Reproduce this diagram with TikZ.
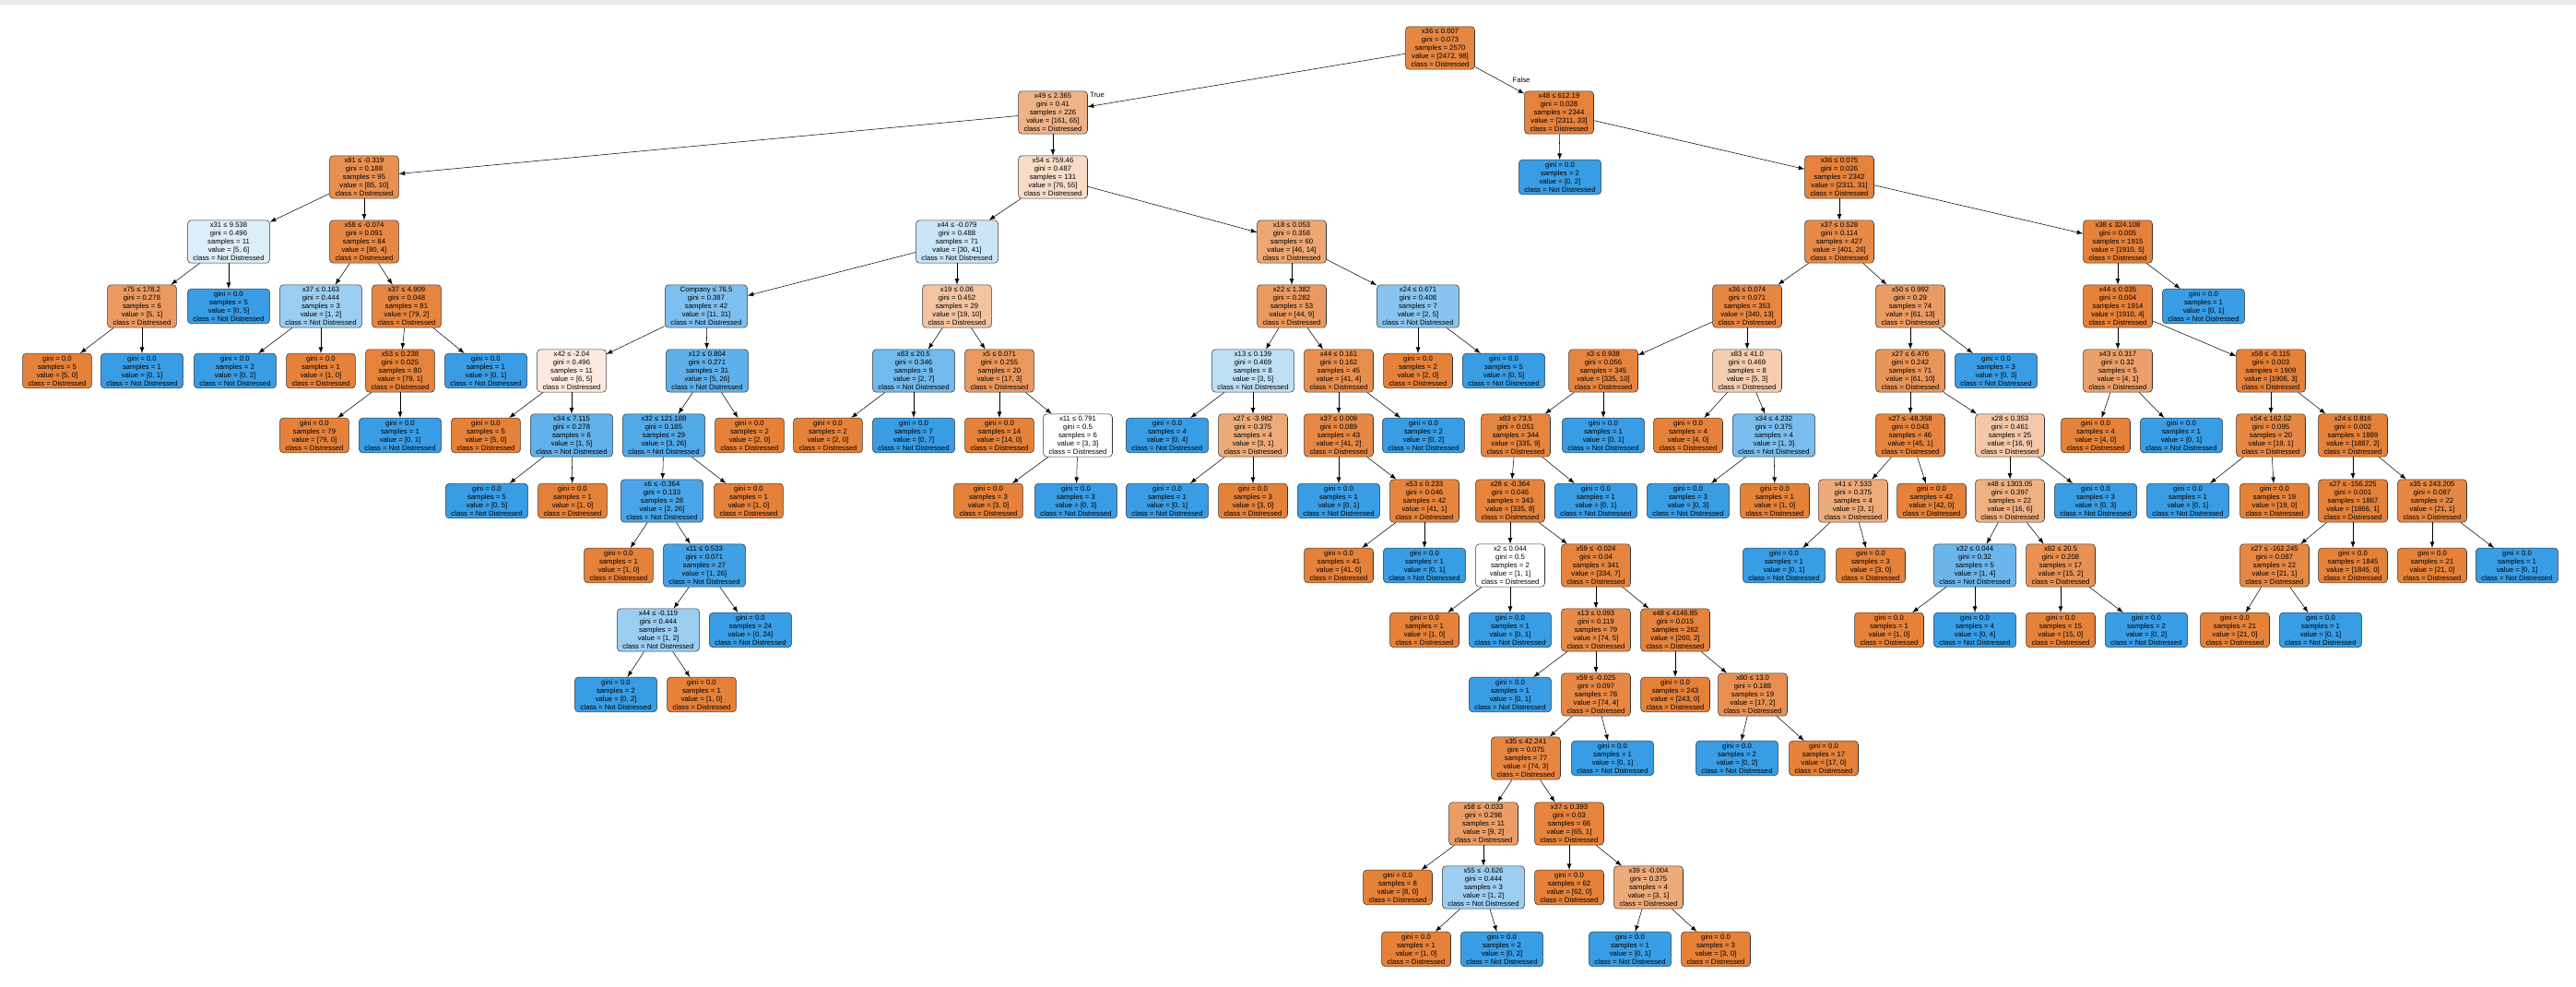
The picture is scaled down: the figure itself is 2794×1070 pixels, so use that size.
\documentclass[tikz,border=0pt]{standalone}
\usepackage{fontspec}
\setmainfont{Liberation Sans}
\usepackage{xcolor}
\usepackage{tikz}
\usetikzlibrary{arrows}

\definecolor{dis}{HTML}{E58139}
\definecolor{ndis}{HTML}{399DE5}
\newcommand{\spl}[5]{#1\\gini = #2\\samples = #3\\value = [#4]\\class = #5}
\newcommand{\lea}[3]{gini = 0.0\\samples = #1\\value = [#2]\\class = #3}
\newcommand{\Dc}{Distressed}
\newcommand{\Nc}{Not Distressed}

\tikzset{
  tn/.style={draw=black!80, line width=0.3pt, rounded corners=2.2pt, align=center,
    inner xsep=0.12cm, inner ysep=0.05cm, font=\fontsize{4.4}{5.1}\selectfont},
  o/.style={tn, fill=dis!#1!white},
  bl/.style={tn, fill=ndis!#1!white},
  edge/.style={->, >=latex, line width=0.3pt}
}

\begin{document}
\begin{tikzpicture}[x=0.02cm, y=-0.02cm]
  \useasboundingbox (0,0) rectangle (2794,1070);
  \fill[black!8] (0,0) rectangle (2794,5);

  % level 0 - 2
  \node[o=96] (r) at (1562,52) {\spl{x36 ≤ 0.007}{0.073}{2570}{2472, 98}{\Dc}};
  \node[o=60] (a) at (1142,122) {\spl{x49 ≤ 2.365}{0.41}{226}{161, 65}{\Dc}};
  \node[o=99] (b) at (1691,122) {\spl{x48 ≤ 612.19}{0.028}{2344}{2311, 33}{\Dc}};
  \node[o=88] (aa) at (395,192) {\spl{x81 ≤ -0.319}{0.188}{95}{85, 10}{\Dc}};
  \node[o=28] (ab) at (1142,192) {\spl{x54 ≤ 759.46}{0.487}{131}{76, 55}{\Dc}};
  \node[bl=100] (ba) at (1692,192) {\lea{2}{0, 2}{\Nc}};
  \node[o=99] (bb) at (1995,192) {\spl{x36 ≤ 0.075}{0.026}{2342}{2311, 31}{\Dc}};

  % level 3
  \node[bl=17] (aaa) at (248,262) {\spl{x31 ≤ 9.538}{0.496}{11}{5, 6}{\Nc}};
  \node[o=95] (aab) at (395,262) {\spl{x58 ≤ -0.074}{0.091}{84}{80, 4}{\Dc}};
  \node[bl=27] (aba) at (1038,262) {\spl{x44 ≤ -0.079}{0.488}{71}{30, 41}{\Nc}};
  \node[o=70] (abb) at (1401,262) {\spl{x18 ≤ 0.053}{0.358}{60}{46, 14}{\Dc}};
  \node[o=93] (bba) at (1995,262) {\spl{x37 ≤ 0.528}{0.114}{427}{401, 26}{\Dc}};
  \node[o=100] (bbb) at (2297,262) {\spl{x38 ≤ 324.108}{0.005}{1915}{1910, 5}{\Dc}};

  % level 4
  \node[o=80] (c1) at (154,332) {\spl{x75 ≤ 178.2}{0.278}{6}{5, 1}{\Dc}};
  \node[bl=100] (c2) at (248,332) {\lea{5}{0, 5}{\Nc}};
  \node[bl=50] (c3) at (348,332) {\spl{x37 ≤ 0.163}{0.444}{3}{1, 2}{\Nc}};
  \node[o=97] (c4) at (441,332) {\spl{x37 ≤ 4.909}{0.048}{81}{79, 2}{\Dc}};
  \node[bl=65] (c5) at (766,332) {\spl{Company ≤ 76.5}{0.387}{42}{11, 31}{\Nc}};
  \node[o=47] (c6) at (1038,332) {\spl{x19 ≤ 0.06}{0.452}{29}{19, 10}{\Dc}};
  \node[o=80] (c7) at (1401,332) {\spl{x22 ≤ 1.382}{0.282}{53}{44, 9}{\Dc}};
  \node[bl=60] (c8) at (1538,332) {\spl{x24 ≤ 0.671}{0.408}{7}{2, 5}{\Nc}};
  \node[o=96] (c9) at (1895,332) {\spl{x36 ≤ 0.074}{0.071}{353}{340, 13}{\Dc}};
  \node[o=79] (c10) at (2072,332) {\spl{x50 ≤ 0.992}{0.29}{74}{61, 13}{\Dc}};
  \node[o=100] (c11) at (2297,332) {\spl{x44 ≤ 0.035}{0.004}{1914}{1910, 4}{\Dc}};
  \node[bl=100] (c12) at (2390,332) {\lea{1}{0, 1}{\Nc}};

  % level 5
  \node[o=100] (d1) at (62,402) {\lea{5}{5, 0}{\Dc}};
  \node[bl=100] (d2) at (154,402) {\lea{1}{0, 1}{\Nc}};
  \node[bl=100] (d3) at (255,402) {\lea{2}{0, 2}{\Nc}};
  \node[o=100] (d4) at (348,402) {\lea{1}{1, 0}{\Dc}};
  \node[o=99] (d5) at (434,402) {\spl{x53 ≤ 0.238}{0.025}{80}{79, 1}{\Dc}};
  \node[bl=100] (d6) at (527,402) {\lea{1}{0, 1}{\Nc}};
  \node[o=17] (d7) at (620,402) {\spl{x42 ≤ -2.04}{0.496}{11}{6, 5}{\Dc}};
  \node[bl=81] (d8) at (767,402) {\spl{x12 ≤ 0.804}{0.271}{31}{5, 26}{\Nc}};
  \node[bl=71] (d9) at (991,402) {\spl{x83 ≤ 20.5}{0.346}{9}{2, 7}{\Nc}};
  \node[o=82] (d10) at (1084,402) {\spl{x5 ≤ 0.071}{0.255}{20}{17, 3}{\Dc}};
  \node[bl=33] (d11) at (1359,402) {\spl{x13 ≤ 0.139}{0.469}{8}{3, 5}{\Nc}};
  \node[o=90] (d12) at (1452,402) {\spl{x44 ≤ 0.161}{0.162}{45}{41, 4}{\Dc}};
  \node[o=100] (d13) at (1538,402) {\lea{2}{2, 0}{\Dc}};
  \node[bl=100] (d14) at (1631,402) {\lea{5}{0, 5}{\Nc}};
  \node[o=97] (d15) at (1739,402) {\spl{x3 ≤ 0.938}{0.056}{345}{335, 10}{\Dc}};
  \node[o=40] (d16) at (1895,402) {\spl{x83 ≤ 41.0}{0.469}{8}{5, 3}{\Dc}};
  \node[o=84] (d17) at (2072,402) {\spl{x27 ≤ 6.476}{0.242}{71}{61, 10}{\Dc}};
  \node[bl=100] (d18) at (2165,402) {\lea{3}{0, 3}{\Nc}};
  \node[o=75] (d19) at (2297,402) {\spl{x43 ≤ 0.317}{0.32}{5}{4, 1}{\Dc}};
  \node[o=100] (d20) at (2463,402) {\spl{x58 ≤ -0.115}{0.003}{1909}{1906, 3}{\Dc}};

  % level 6
  \node[o=100] (e1) at (341,472) {\lea{79}{79, 0}{\Dc}};
  \node[bl=100] (e2) at (434,472) {\lea{1}{0, 1}{\Nc}};
  \node[o=100] (e3) at (527,472) {\lea{5}{5, 0}{\Dc}};
  \node[bl=80] (e4) at (620,472) {\spl{x34 ≤ 7.115}{0.278}{6}{1, 5}{\Nc}};
  \node[bl=88] (e5) at (720,472) {\spl{x32 ≤ 121.188}{0.185}{29}{3, 26}{\Nc}};
  \node[o=100] (e6) at (813,472) {\lea{2}{2, 0}{\Dc}};
  \node[o=100] (e7) at (898,472) {\lea{2}{2, 0}{\Dc}};
  \node[bl=100] (e8) at (991,472) {\lea{7}{0, 7}{\Nc}};
  \node[o=100] (e9) at (1084,472) {\lea{14}{14, 0}{\Dc}};
  \node[o=0] (e10) at (1169,472) {\spl{x11 ≤ 0.791}{0.5}{6}{3, 3}{\Dc}};
  \node[bl=100] (e11) at (1266,472) {\lea{4}{0, 4}{\Nc}};
  \node[o=67] (e12) at (1359,472) {\spl{x27 ≤ -3.982}{0.375}{4}{3, 1}{\Dc}};
  \node[o=95] (e13) at (1452,472) {\spl{x37 ≤ 0.009}{0.089}{43}{41, 2}{\Dc}};
  \node[bl=100] (e14) at (1544,472) {\lea{2}{0, 2}{\Nc}};
  \node[o=97] (e15) at (1644,472) {\spl{x83 ≤ 73.5}{0.051}{344}{335, 9}{\Dc}};
  \node[bl=100] (e16) at (1739,472) {\lea{1}{0, 1}{\Nc}};
  \node[o=100] (e17) at (1831,472) {\lea{4}{4, 0}{\Dc}};
  \node[bl=67] (e18) at (1924,472) {\spl{x34 ≤ 4.232}{0.375}{4}{1, 3}{\Nc}};
  \node[o=98] (e19) at (2072,472) {\spl{x27 ≤ -48.358}{0.043}{46}{45, 1}{\Dc}};
  \node[o=44] (e20) at (2180,472) {\spl{x28 ≤ 0.353}{0.461}{25}{16, 9}{\Dc}};
  \node[o=100] (e21) at (2273,472) {\lea{4}{4, 0}{\Dc}};
  \node[bl=100] (e22) at (2366,472) {\lea{1}{0, 1}{\Nc}};
  \node[o=95] (e23) at (2463,472) {\spl{x54 ≤ 162.52}{0.095}{20}{19, 1}{\Dc}};
  \node[o=100] (e24) at (2552,472) {\spl{x24 ≤ 0.816}{0.002}{1889}{1887, 2}{\Dc}};

  % level 7
  \node[bl=100] (f1) at (528,543) {\lea{5}{0, 5}{\Nc}};
  \node[o=100] (f2) at (621,543) {\lea{1}{1, 0}{\Dc}};
  \node[bl=92] (f3) at (718,543) {\spl{x6 ≤ -0.364}{0.133}{28}{2, 26}{\Nc}};
  \node[o=100] (f4) at (812,543) {\lea{1}{1, 0}{\Dc}};
  \node[o=100] (f5) at (1072,543) {\lea{3}{3, 0}{\Dc}};
  \node[bl=100] (f6) at (1167,543) {\lea{3}{0, 3}{\Nc}};
  \node[bl=100] (f7) at (1266,543) {\lea{1}{0, 1}{\Nc}};
  \node[o=100] (f8) at (1359,543) {\lea{3}{3, 0}{\Dc}};
  \node[bl=100] (f9) at (1452,543) {\lea{1}{0, 1}{\Nc}};
  \node[o=98] (f10) at (1545,543) {\spl{x53 ≤ 0.233}{0.046}{42}{41, 1}{\Dc}};
  \node[o=98] (f11) at (1638,543) {\spl{x28 ≤ -0.364}{0.046}{343}{335, 8}{\Dc}};
  \node[bl=100] (f12) at (1731,543) {\lea{1}{0, 1}{\Nc}};
  \node[bl=100] (f13) at (1831,543) {\lea{3}{0, 3}{\Nc}};
  \node[o=100] (f14) at (1925,543) {\lea{1}{1, 0}{\Dc}};
  \node[o=67] (f15) at (2010,543) {\spl{x41 ≤ 7.533}{0.375}{4}{3, 1}{\Dc}};
  \node[o=100] (f16) at (2095,543) {\lea{42}{42, 0}{\Dc}};
  \node[o=63] (f17) at (2180,543) {\spl{x48 ≤ 1303.05}{0.397}{22}{16, 6}{\Dc}};
  \node[bl=100] (f18) at (2273,543) {\lea{3}{0, 3}{\Nc}};
  \node[bl=100] (f19) at (2373,543) {\lea{1}{0, 1}{\Nc}};
  \node[o=100] (f20) at (2467,543) {\lea{19}{19, 0}{\Dc}};
  \node[o=100] (f21) at (2552,543) {\spl{x27 ≤ -156.225}{0.001}{1867}{1866, 1}{\Dc}};
  \node[o=95] (f22) at (2638,543) {\spl{x35 ≤ 243.205}{0.087}{22}{21, 1}{\Dc}};

  % level 8
  \node[o=100] (g1) at (671,613) {\lea{1}{1, 0}{\Dc}};
  \node[bl=96] (g2) at (764,613) {\spl{x11 ≤ 0.533}{0.071}{27}{1, 26}{\Nc}};
  \node[o=100] (g3) at (1452,613) {\lea{41}{41, 0}{\Dc}};
  \node[bl=100] (g4) at (1545,613) {\lea{1}{0, 1}{\Nc}};
  \node[o=0] (g5) at (1638,613) {\spl{x2 ≤ 0.044}{0.5}{2}{1, 1}{\Dc}};
  \node[o=98] (g6) at (1731,613) {\spl{x59 ≤ -0.024}{0.04}{341}{334, 7}{\Dc}};
  \node[bl=100] (g7) at (1935,613) {\lea{1}{0, 1}{\Nc}};
  \node[o=100] (g8) at (2029,613) {\lea{3}{3, 0}{\Dc}};
  \node[bl=75] (g9) at (2142,613) {\spl{x32 ≤ 0.044}{0.32}{5}{1, 4}{\Nc}};
  \node[o=87] (g10) at (2235,613) {\spl{x82 ≤ 20.5}{0.208}{17}{15, 2}{\Dc}};
  \node[o=95] (g11) at (2467,613) {\spl{x27 ≤ -162.245}{0.087}{22}{21, 1}{\Dc}};
  \node[o=100] (g12) at (2552,613) {\lea{1845}{1845, 0}{\Dc}};
  \node[o=100] (g13) at (2638,613) {\lea{21}{21, 0}{\Dc}};
  \node[bl=100] (g14) at (2730,613) {\lea{1}{0, 1}{\Nc}};

  % level 9
  \node[bl=50] (h1) at (714,683) {\spl{x44 ≤ -0.119}{0.444}{3}{1, 2}{\Nc}};
  \node[bl=100] (h2) at (814,683) {\lea{24}{0, 24}{\Nc}};
  \node[o=100] (h3) at (1545,683) {\lea{1}{1, 0}{\Dc}};
  \node[bl=100] (h4) at (1638,683) {\lea{1}{0, 1}{\Nc}};
  \node[o=93] (h5) at (1731,683) {\spl{x13 ≤ 0.093}{0.119}{79}{74, 5}{\Dc}};
  \node[o=99] (h6) at (1817,683) {\spl{x48 ≤ 4146.85}{0.015}{262}{260, 2}{\Dc}};
  \node[o=100] (h7) at (2049,683) {\lea{1}{1, 0}{\Dc}};
  \node[bl=100] (h8) at (2142,683) {\lea{4}{0, 4}{\Nc}};
  \node[o=100] (h9) at (2235,683) {\lea{15}{15, 0}{\Dc}};
  \node[bl=100] (h10) at (2328,683) {\lea{2}{0, 2}{\Nc}};
  \node[o=100] (h11) at (2424,683) {\lea{21}{21, 0}{\Dc}};
  \node[bl=100] (h12) at (2517,683) {\lea{1}{0, 1}{\Nc}};

  % level 10 - 14
  \node[bl=100] (i1) at (668,753) {\lea{2}{0, 2}{\Nc}};
  \node[o=100] (i2) at (761,753) {\lea{1}{1, 0}{\Dc}};
  \node[bl=100] (i3) at (1638,753) {\lea{1}{0, 1}{\Nc}};
  \node[o=95] (i4) at (1731,753) {\spl{x59 ≤ -0.025}{0.097}{78}{74, 4}{\Dc}};
  \node[o=100] (i5) at (1817,753) {\lea{243}{243, 0}{\Dc}};
  \node[o=88] (i6) at (1901,753) {\spl{x80 ≤ 13.0}{0.188}{19}{17, 2}{\Dc}};
  \node[o=96] (j1) at (1655,822) {\spl{x35 ≤ 42.241}{0.075}{77}{74, 3}{\Dc}};
  \node[bl=100] (j2) at (1749,822) {\lea{1}{0, 1}{\Nc}};
  \node[bl=100] (j3) at (1884,822) {\lea{2}{0, 2}{\Nc}};
  \node[o=100] (j4) at (1978,822) {\lea{17}{17, 0}{\Dc}};
  \node[o=78] (k1) at (1609,893) {\spl{x58 ≤ -0.033}{0.298}{11}{9, 2}{\Dc}};
  \node[o=98] (k2) at (1702,893) {\spl{x37 ≤ 0.393}{0.03}{66}{65, 1}{\Dc}};
  \node[o=100] (l1) at (1516,962) {\lea{8}{8, 0}{\Dc}};
  \node[bl=50] (l2) at (1609,962) {\spl{x55 ≤ -0.626}{0.444}{3}{1, 2}{\Nc}};
  \node[o=100] (l3) at (1702,962) {\lea{62}{62, 0}{\Dc}};
  \node[o=67] (l4) at (1788,962) {\spl{x39 ≤ -0.004}{0.375}{4}{3, 1}{\Dc}};
  \node[o=100] (m1) at (1536,1029) {\lea{1}{1, 0}{\Dc}};
  \node[bl=100] (m2) at (1629,1029) {\lea{2}{0, 2}{\Nc}};
  \node[bl=100] (m3) at (1768,1029) {\lea{1}{0, 1}{\Nc}};
  \node[o=100] (m4) at (1861,1029) {\lea{3}{3, 0}{\Dc}};

  \foreach \p/\c in {r/a, r/b, a/aa, a/ab, b/ba, b/bb, aa/aaa, aa/aab, ab/aba, ab/abb,
      bb/bba, bb/bbb, aaa/c1, aaa/c2, aab/c3, aab/c4, aba/c5, aba/c6, abb/c7, abb/c8,
      bba/c9, bba/c10, bbb/c11, bbb/c12, c1/d1, c1/d2, c3/d3, c3/d4, c4/d5, c4/d6,
      c5/d7, c5/d8, c6/d9, c6/d10, c7/d11, c7/d12, c8/d13, c8/d14, c9/d15, c9/d16,
      c10/d17, c10/d18, c11/d19, c11/d20, d5/e1, d5/e2, d7/e3, d7/e4, d8/e5, d8/e6,
      d9/e7, d9/e8, d10/e9, d10/e10, d11/e11, d11/e12, d12/e13, d12/e14, d15/e15,
      d15/e16, d16/e17, d16/e18, d17/e19, d17/e20, d19/e21, d19/e22, d20/e23, d20/e24,
      e4/f1, e4/f2, e5/f3, e5/f4, e10/f5, e10/f6, e12/f7, e12/f8, e13/f9, e13/f10,
      e15/f11, e15/f12, e18/f13, e18/f14, e19/f15, e19/f16, e20/f17, e20/f18,
      e23/f19, e23/f20, e24/f21, e24/f22, f3/g1, f3/g2, f10/g3, f10/g4, f11/g5, f11/g6,
      f15/g7, f15/g8, f17/g9, f17/g10, f21/g11, f21/g12, f22/g13, f22/g14,
      g2/h1, g2/h2, g5/h3, g5/h4, g6/h5, g6/h6, g9/h7, g9/h8, g10/h9, g10/h10,
      g11/h11, g11/h12, h1/i1, h1/i2, h5/i3, h5/i4, h6/i5, h6/i6, i4/j1, i4/j2,
      i6/j3, i6/j4, j1/k1, j1/k2, k1/l1, k1/l2, k2/l3, k2/l4, l2/m1, l2/m2, l4/m3, l4/m4}
    \draw[edge] (\p) -- (\c);

  \node[font=\fontsize{4.4}{5.1}\selectfont] (tl) at (1190,103) {True};
  \node[font=\fontsize{4.4}{5.1}\selectfont] (fl) at (1650,87) {False};
\end{tikzpicture}
\end{document}
